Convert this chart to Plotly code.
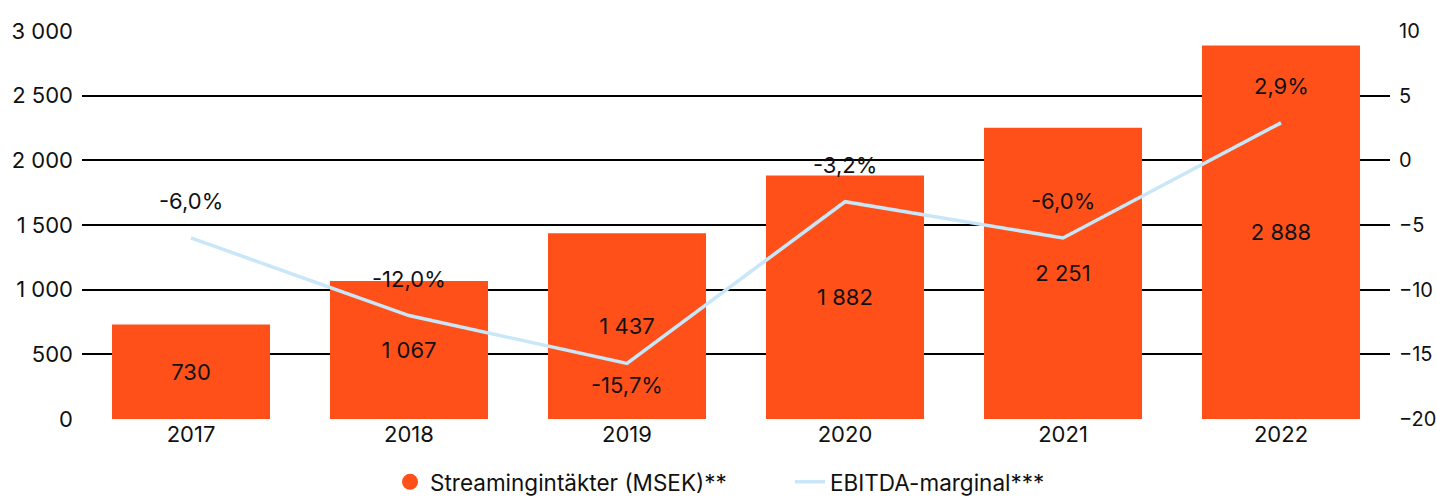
import plotly.graph_objects as go

years = ["2017", "2018", "2019", "2020", "2021", "2022"]
revenue = [730, 1067, 1437, 1882, 2251, 2888]
revenue_labels = ["730", "1 067", "1 437", "1 882", "2 251", "2 888"]
margin = [-6.0, -12.0, -15.7, -3.2, -6.0, 2.9]
margin_labels = ["-6,0%", "-12,0%", "-15,7%", "-3,2%", "-6,0%", "2,9%"]
margin_label_side = ["above", "above", "below", "above", "above", "above"]
left_ticks = [0, 500, 1000, 1500, 2000, 2500, 3000]
left_tick_text = ["0", "500", "1 000", "1 500", "2 000", "2 500", "3 000"]
right_ticks = [-20, -15, -10, -5, 0, 5, 10]

ORANGE = "#FF5019"
BLUE = "#C9E7F8"
FONT = "Inter"
FS = 22

fig = go.Figure()
fig.add_trace(go.Bar(
    x=years, y=revenue, text=revenue_labels, textposition="inside",
    insidetextanchor="middle", textfont=dict(color="#111", size=FS, family=FONT),
    marker=dict(color=ORANGE, line=dict(width=0)), width=0.725,
    showlegend=False, name="Streamingintäkter (MSEK)**",
))
fig.add_trace(go.Scatter(
    x=[None], y=[None], mode="markers", marker=dict(color=ORANGE, size=16, symbol="circle"),
    name="Streamingintäkter (MSEK)**",
))
fig.add_trace(go.Scatter(
    x=years, y=margin, mode="lines", yaxis="y2",
    line=dict(color=BLUE, width=3.5), name="EBITDA-marginal***",
))
for i, (v, lab, side) in enumerate(zip(margin, margin_labels, margin_label_side)):
    fig.add_annotation(x=i, y=v, xref="x", yref="y2", text=lab, showarrow=False,
                       yshift=37 if side == "above" else -22,
                       font=dict(size=FS, color="#111", family=FONT))

fig.update_layout(
    width=1436, height=497,
    margin=dict(l=82, r=46, t=31, b=78, autoexpand=False),
    plot_bgcolor="white", paper_bgcolor="white",
    font=dict(family=FONT, size=FS, color="#111"),
    bargap=0.275,
    xaxis=dict(type="category", range=[-0.5, 5.5], showgrid=False, ticks="",
               showline=False, automargin=False),
    yaxis=dict(range=[0, 3000], tickvals=left_ticks, ticktext=left_tick_text,
               showgrid=True, gridcolor="#000", gridwidth=2, zeroline=False,
               ticks="", ticklabelstandoff=8, layer="below traces", automargin=False),
    yaxis2=dict(range=[-20, 10], tickvals=right_ticks, overlaying="y", side="right",
                showgrid=False, zeroline=False, ticks="", ticklabelstandoff=8,
                tickfont=dict(size=20), automargin=False),
    legend=dict(orientation="h", x=0.2355, xanchor="left", y=-0.163, yanchor="middle",
                font=dict(size=22.5), entrywidth=355, entrywidthmode="pixels",
                tracegroupgap=0),
)
fig.write_html("out.html", config={"displayModeBar": False},
               post_script="document.body.style.margin='0';document.body.style.overflow='hidden';document.documentElement.style.overflow='hidden';")
